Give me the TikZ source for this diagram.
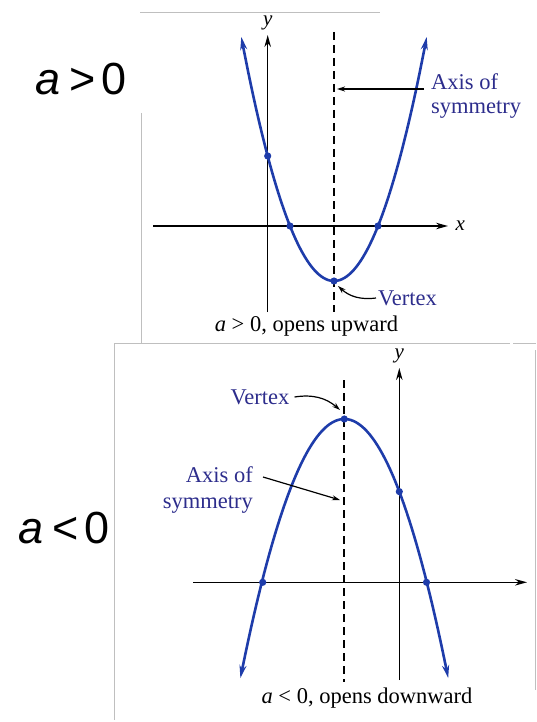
\documentclass[tikz,border=0pt]{standalone}
\usepackage{fontspec}
\setmainfont{Liberation Serif}
\newfontfamily\signfont{Liberation Sans}
\usepackage{xcolor}
\usetikzlibrary{arrows.meta, positioning, calc}
\definecolor{curveblue}{RGB}{30,60,170}
\definecolor{textblue}{RGB}{45,45,140}

\begin{document}
\begin{tikzpicture}[
  x=1pt, y=-1pt,
  curve/.style={curveblue, line width=2.6pt,
                {Stealth[length=13pt, width=7pt]}-{Stealth[length=13pt, width=7pt]}},
  ax/.style={line width=1.4pt, -{Stealth[length=12pt, width=6.5pt]}},
  symline/.style={line width=2pt, dash pattern=on 8pt off 5pt},
  dot/.style={curveblue},
  lbl/.style={font=\fontsize{22.5}{24}\selectfont, text=textblue, inner sep=1pt},
  caption/.style={font=\fontsize{22.5}{24}\selectfont, inner sep=0pt},
  var/.style={font=\fontsize{21}{24}\selectfont\itshape, inner sep=1pt},
  sign/.style={font=\signfont\fontsize{45}{48}\selectfont, inner sep=0pt},
  ptr/.style={line width=1.2pt, -{Stealth[length=8pt, width=5pt]}},
  frame/.style={black!25, line width=0.8pt}
]
  \useasboundingbox (0,0) rectangle (536,722);

  % scan frames
  \draw[frame] (140,12) -- (380,12);
  \draw[frame] (141.5,113) -- (141.5,343);
  \draw[frame] (114,343) -- (510,343);
  \draw[frame] (513,343) -- (536,343);
  \draw[frame] (114.3,343) -- (114.3,720);
  \draw[frame] (535,350) -- (535,690);

  % Top: a > 0
  \node[sign, anchor=base] (signA) at (81,95) {\textit{a}\hspace{9pt}>\hspace{6pt}0};

  \draw[ax] (153,226) -- (448,226) node[var, right=6pt] (xA) {x};
  \draw[ax] (267.7,312) -- (267.7,35) node[var, above=3pt] (yA) {y};
  \draw[symline] (333.5,32) -- (333.5,312);

  \draw[curve] plot[domain=241.3:426.7, samples=80] (\x, {281-0.0284*(\x-334)*(\x-334)});

  \coordinate (vtxA) at (334,281);
  \coordinate (rootA1) at (290,226);
  \coordinate (rootA2) at (378,226);
  \coordinate (intA) at (267.7,156);
  \foreach \p in {vtxA, rootA1, rootA2, intA}
    \fill[dot] (\p) circle (3.6pt);

  \node[lbl, anchor=west, align=left] (axisA) at (430,96) {Axis of\\symmetry};
  \coordinate (symA) at (337,89);
  \draw[ptr] ([shift={(-6pt,7pt)}]axisA.west) -- (symA);

  \node[lbl, anchor=west] (vertA) at (377,298) {Vertex};
  \coordinate (tipA) at (338,286);
  \draw[ptr] ([xshift=-1pt]vertA.west) to[bend left=25] (tipA);

  \node[caption] (capA) at (306.5,326) {\textit{a} > 0, opens upward};

  % Bottom: a < 0
  \node[sign, anchor=base] (signB) at (64,543) {\textit{a}\hspace{9pt}<\hspace{6pt}0};

  \draw[ax] (193,582.3) -- (527,582.3);
  \draw[ax] (399.3,680) -- (399.3,368) node[var, above=3pt] (yB) {y};
  \draw[symline] (344.3,380) -- (344.3,682);

  \draw[curve] plot[domain=240.4:448.2, samples=80] (\x, {419+0.024*(\x-344.3)*(\x-344.3)});

  \coordinate (vtxB) at (344.3,419);
  \coordinate (rootB1) at (262.7,582.3);
  \coordinate (rootB2) at (426.5,582.3);
  \coordinate (intB) at (399.3,491.6);
  \foreach \p in {vtxB, rootB1, rootB2, intB}
    \fill[dot] (\p) circle (3.6pt);

  \node[lbl, anchor=center] (vertB) at (260,397) {Vertex};
  \coordinate (tipB) at (340,410);
  \draw[ptr] ([xshift=4pt]vertB.east) to[bend left=25] (tipB);

  \node[lbl, anchor=east, align=right, font=\fontsize{22.5}{26.5}\selectfont] (axisB) at (254,490) {Axis of\\symmetry};
  \coordinate (symB) at (340,500);
  \draw[ptr] ([shift={(9pt,13pt)}]axisB.east) -- (symB);

  \node[caption] (capB) at (367,698) {\textit{a} < 0, opens downward};
\end{tikzpicture}
\end{document}
